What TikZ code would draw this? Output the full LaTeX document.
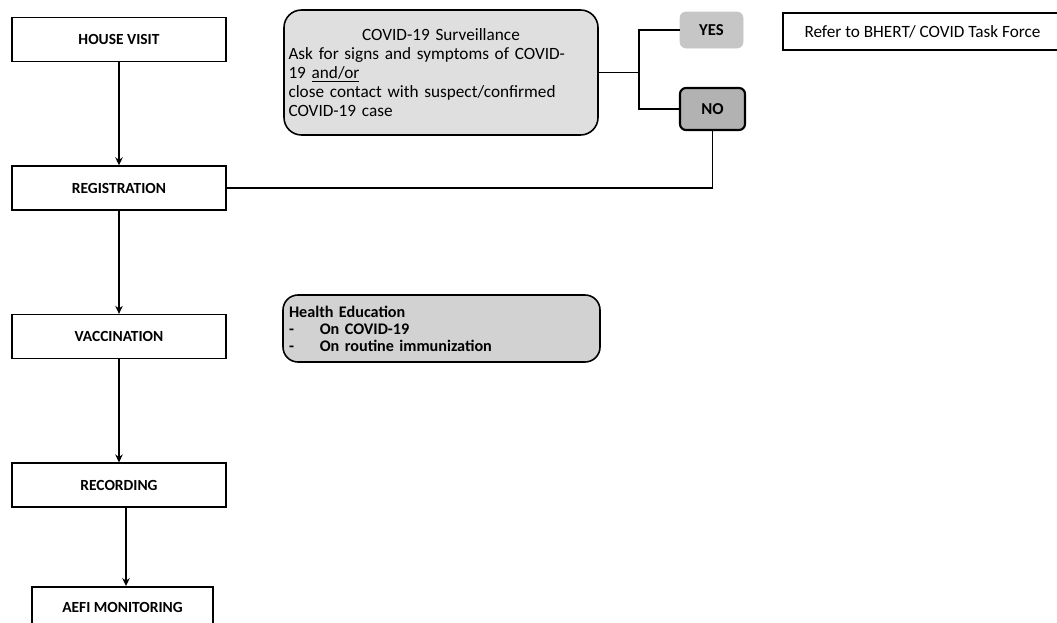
\documentclass[tikz,border=0pt]{standalone}
\usepackage{fontspec}
\setmainfont{Carlito}
\usetikzlibrary{arrows.meta,positioning}

\begin{document}
\begin{tikzpicture}[
    node distance=2.06cm,
    every node/.style={font=\fontsize{9.8}{10.8}\selectfont},
    stepbox/.style={draw, line width=0.9pt, minimum width=4.28cm, minimum height=0.88cm, font=\fontsize{8.8}{10}\selectfont\bfseries},
    survbox/.style={draw, line width=0.9pt, rounded corners=0.35cm, fill=gray!25, minimum width=6.28cm, minimum height=2.5cm, text width=6.1cm, align=left, inner sep=2pt},
    edubox/.style={draw, line width=0.9pt, rounded corners=0.3cm, fill=gray!35, minimum width=6.34cm, minimum height=1.34cm, text width=6.1cm, align=left, inner sep=2pt, font=\fontsize{9.2}{9.6}\selectfont\bfseries},
    answer/.style={rounded corners=0.12cm, minimum width=1.26cm, minimum height=0.72cm, font=\fontsize{9.5}{10}\selectfont\bfseries},
    referbox/.style={draw, line width=0.9pt, minimum width=5.58cm, minimum height=0.74cm},
    flow/.style={-{Stealth[length=1.6mm, width=1.5mm]}, line width=0.8pt},
    link/.style={line width=0.9pt}
]
\useasboundingbox (0,0) rectangle (21.14,-12.44);

% main column
\node[stepbox] (house) at (2.38,-0.79) {HOUSE VISIT};
\node[stepbox, below=of house] (reg) {REGISTRATION};
\node[stepbox, below=of reg] (vacc) {VACCINATION};
\node[stepbox, below=of vacc] (rec) {RECORDING};
\node[stepbox, minimum width=3.62cm, minimum height=0.84cm, below=1.56cm of rec, xshift=0.07cm] (aefi) {AEFI MONITORING};

% screening
\node[survbox] (surv) at (8.82,-1.45) {\makebox[\linewidth]{COVID-19 Surveillance}\\
Ask for signs and symptoms of COVID-\\
19 \underline{and/or}\\
close contact with suspect/confirmed\\
COVID-19 case};
\node[answer, draw=gray!45, fill=gray!45] (yes) at (14.23,-0.60) {YES};
\node[answer, draw, line width=1.2pt, fill=gray!60, minimum width=1.3cm, minimum height=0.84cm] (no) at (14.25,-2.18) {NO};
\node[referbox] (refer) at (18.45,-0.63) {Refer to BHERT/ COVID Task Force};
\coordinate (split) at (12.78,-1.45);

\node[edubox] (edu) at (8.83,-6.57) {Health Education\\
-\hspace{1.6em}On COVID-19\\
-\hspace{1.6em}On routine immunization};

\draw[flow] (house) -- (reg);
\draw[flow] (reg) -- (vacc);
\draw[flow] (vacc) -- (rec);
\draw[flow] ([xshift=0.14cm]rec.south) -- ([xshift=0.14cm]rec.south |- aefi.north);
\draw[link] (surv.east) -- (split);
\draw[link] (split) |- (yes.west);
\draw[link] (split) |- (no.west);
\draw[link] (no.south) |- (reg.east);
\end{tikzpicture}
\end{document}
